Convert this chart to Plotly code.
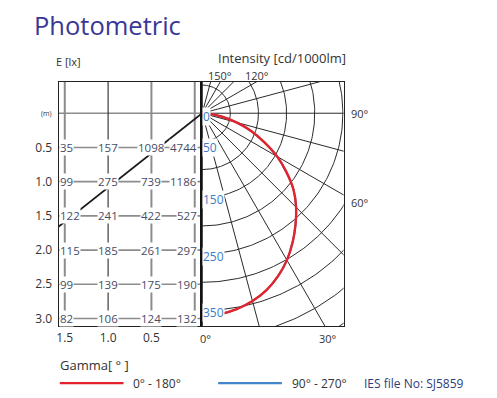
import numpy as np
import plotly.graph_objects as go

# ---------------- data ----------------
GAMMA_DEG = [0, 5, 10, 15, 20, 25, 30, 35, 40, 45, 50, 55, 60, 65, 70, 75, 80, 85, 90]
INTENSITY_C0_180 = [360, 358, 353, 345, 334, 319, 301, 280, 258, 236, 212, 183, 154, 122, 93, 63, 36, 14, 0]
INTENSITY_C90_270 = [360, 358, 353, 345, 334, 319, 301, 280, 258, 236, 212, 183, 154, 122, 93, 63, 36, 14, 0]

RING_VALUES = [50, 100, 150, 200, 250, 300, 350, 400, 450, 500]
RING_LABELS = [0, 50, 150, 250, 350]
SPOKE_ANGLES = [0, 15, 30, 45, 60, 75, 90, 105, 120, 135, 150, 165, 180]
ANGLE_LABELS = [0, 30, 60, 90, 120, 150]

DISTANCES = [0.5, 1.0, 1.5, 2.0, 2.5, 3.0]
DISTANCE_LABELS = ["0.5", "1.0", "1.5", "2.0", "2.5", "3.0"]
OFFSETS = [1.5, 1.0, 0.5, 0.0]
OFFSET_LABELS = ["1.5", "1.0", "0.5"]
E_LUX = [
    [35, 157, 1098, 4744],
    [99, 275, 739, 1186],
    [122, 241, 422, 527],
    [115, 185, 261, 297],
    [99, 139, 175, 190],
    [82, 106, 124, 132],
]
CONE_HALF_ANGLE = 45
IES_FILE = "SJ5859"

# ---------------- layout geometry (page px) ----------------
PAGE_OFF = 8                 # default body margin of the html page
W, H = 497 - PAGE_OFF, 398 - PAGE_OFF
BOX_L, BOX_M, BOX_R, BOX_T, BOX_B = 57, 200, 343, 82, 327
CX, CY = 201, 113.5          # luminaire position in px
K = 0.565                    # px per cd/klm
TX0, TKX = 193.5, 87.0       # table: px of 0 m, px per m (horizontal)
TKY = 68.6                   # table: px per m (vertical)


def fx(p):
    return (p - PAGE_OFF) / W


def fy(p):
    return 1 - (p - PAGE_OFF) / H


tab_xr = [(TX0 - BOX_L) / TKX, (TX0 - BOX_M) / TKX]
tab_yr = [(BOX_B - CY) / TKY, (BOX_T - CY) / TKY]
pol_xr = [(BOX_M - CX) / K, (BOX_R - CX) / K]
pol_yr = [-(BOX_B - CY) / K, (CY - BOX_T) / K]

FONT = "Open Sans, Noto Sans, Arial, sans-serif"
GRID = "#2b2b2b"
TGRAY = "#8c8c8c"
NUMC = "#464c66"
BLUEL = "#3b7cc4"
RED = "#e3232c"
BLUE = "#4287c8"

fig = go.Figure()

# ---------------- table (left) ----------------
for d in [0.0] + DISTANCES:
    fig.add_trace(go.Scatter(x=tab_xr, y=[d, d], mode="lines",
                             line=dict(color=TGRAY, width=1.6),
                             xaxis="x", yaxis="y", hoverinfo="skip", showlegend=False))
for o in OFFSETS:
    col = GRID if o == 1.0 else TGRAY
    wid = 1.1 if o == 1.0 else 2.0
    fig.add_trace(go.Scatter(x=[o, o], y=tab_yr, mode="lines",
                             line=dict(color=col, width=wid),
                             xaxis="x", yaxis="y", hoverinfo="skip", showlegend=False))
lum_x = (TX0 - CX) / TKX
ys = np.array([0.0, 4.0])
fig.add_trace(go.Scatter(x=lum_x + ys * np.tan(np.radians(CONE_HALF_ANGLE)), y=ys,
                         mode="lines", line=dict(color="#1a1a1a", width=1.8),
                         xaxis="x", yaxis="y", hoverinfo="skip", showlegend=False))

# ---------------- photometric diagram (right) ----------------
tt = np.radians(np.linspace(0, 180, 181))
for R in RING_VALUES:
    fig.add_trace(go.Scatter(x=R * np.sin(tt), y=-R * np.cos(tt), mode="lines",
                             line=dict(color=GRID, width=1),
                             xaxis="x2", yaxis="y2", hoverinfo="skip", showlegend=False))
RMAX = 600
for a in SPOKE_ANGLES:
    ar = np.radians(a)
    fig.add_trace(go.Scatter(x=[0, RMAX * np.sin(ar)], y=[0, -RMAX * np.cos(ar)], mode="lines",
                             line=dict(color=GRID, width=1),
                             xaxis="x2", yaxis="y2", hoverinfo="skip", showlegend=False))

g = np.radians(GAMMA_DEG)
for vals, colr, wid, name in [(INTENSITY_C90_270, BLUE, 2.0, "90° - 270°"),
                              (INTENSITY_C0_180, RED, 2.4, "0° - 180°")]:
    v = np.array(vals, dtype=float)
    fig.add_trace(go.Scatter(x=v * np.sin(g), y=-v * np.cos(g), mode="lines",
                             line=dict(color=colr, width=wid, shape="spline"),
                             name=name, xaxis="x2", yaxis="y2", showlegend=False))

ann = []
for r in RING_LABELS:
    ysh = -3 if r == 0 else (-6 if r == 50 else -2)
    ann.append(dict(x=pol_xr[0], y=-r, xref="x2", yref="y2", text=str(r),
                    xanchor="left", yanchor="middle", xshift=1, yshift=ysh,
                    showarrow=False, bgcolor="white", borderpad=0,
                    font=dict(family=FONT, size=12, color=BLUEL)))
for a in ANGLE_LABELS:
    ar = np.radians(a)
    dx, dy = np.sin(ar), -np.cos(ar)
    cands = []
    if dy < -1e-9:
        cands.append((pol_yr[0] / dy, "b"))
    if dy > 1e-9:
        cands.append((pol_yr[1] / dy, "t"))
    if dx > 1e-9:
        cands.append((pol_xr[1] / dx, "r"))
    t, side = min(cands)
    px_, py_ = t * dx, t * dy
    if side == "b":
        kw = dict(xanchor="center", yanchor="top", yshift=-4, xshift=3)
    elif side == "t":
        kw = dict(xanchor="center", yanchor="bottom", yshift=-2)
    else:
        kw = dict(xanchor="left", yanchor="middle", xshift=6, yshift=-7 if a != 90 else 0)
    ann.append(dict(x=px_, y=py_, xref="x2", yref="y2", text=f"{a}°", showarrow=False,
                    borderpad=0, font=dict(family=FONT, size=11, color="#333"), **kw))

for i, d in enumerate(DISTANCES):
    for j, o in enumerate(OFFSETS):
        if j == 0:
            kw = dict(x=tab_xr[0], xanchor="left", xshift=0)
        elif j == len(OFFSETS) - 1:
            kw = dict(x=o, xanchor="right", xshift=3)
        else:
            kw = dict(x=o, xanchor="center")
        ann.append(dict(y=d, xref="x", yref="y", text=str(E_LUX[i][j]), showarrow=False,
                        yanchor="middle", bgcolor="white", borderpad=0,
                        font=dict(family=FONT, size=11.5, color=NUMC), **kw))

ann.append(dict(x=fx(BOX_L - 5), y=0, xref="paper", yref="y", text="(m)",
                xanchor="right", yanchor="middle", showarrow=False,
                font=dict(family=FONT, size=7, color="#333")))
ann.append(dict(x=fx(52), y=fy(62), xref="paper", yref="paper", text="E [lx]",
                xanchor="left", yanchor="middle", showarrow=False,
                font=dict(family=FONT, size=11, color="#333")))
ann.append(dict(x=fx(281), y=fy(58.5), xref="paper", yref="paper", text="Intensity [cd/1000lm]",
                xanchor="center", yanchor="middle", showarrow=False, borderpad=0,
                font=dict(family=FONT, size=13, color="#333")))
ann.append(dict(x=fx(31), y=fy(25), xref="paper", yref="paper", text="Photometric",
                xanchor="left", yanchor="middle", showarrow=False, borderpad=0,
                font=dict(family=FONT, size=25.5, color="#3a3896")))
ann.append(dict(x=fx(56), y=fy(366), xref="paper", yref="paper", text="Gamma[ ° ]",
                xanchor="left", yanchor="middle", showarrow=False,
                font=dict(family=FONT, size=13, color="#333")))
ann.append(dict(x=fx(129), y=fy(384), xref="paper", yref="paper", text="0° - 180°",
                xanchor="left", yanchor="middle", showarrow=False,
                font=dict(family=FONT, size=12, color="#333")))
ann.append(dict(x=fx(289), y=fy(384), xref="paper", yref="paper", text="90° - 270°",
                xanchor="left", yanchor="middle", showarrow=False,
                font=dict(family=FONT, size=12, color="#333")))
ann.append(dict(x=fx(361), y=fy(384), xref="paper", yref="paper", text=f"IES file No: {IES_FILE}",
                xanchor="left", yanchor="middle", showarrow=False,
                font=dict(family=FONT, size=12, color="#2c3c7c")))

shapes = [
    dict(type="line", xref="paper", yref="paper", x0=fx(58), x1=fx(122), y0=fy(384), y1=fy(384),
         line=dict(color=RED, width=2.2)),
    dict(type="line", xref="paper", yref="paper", x0=fx(217), x1=fx(281), y0=fy(384), y1=fy(384),
         line=dict(color=BLUE, width=2.2)),
    dict(type="line", xref="paper", yref="paper", x0=fx(BOX_M), x1=fx(BOX_M),
         y0=fy(BOX_B), y1=fy(BOX_T), line=dict(color="#111", width=2.2)),
]

axline = dict(showline=True, mirror=True, linecolor="#222", linewidth=1.4,
              showgrid=False, zeroline=False, ticks="", fixedrange=True)

fig.update_layout(
    width=W, height=H, margin=dict(l=0, r=0, t=0, b=0),
    paper_bgcolor="white", plot_bgcolor="white",
    xaxis=dict(domain=[fx(BOX_L), fx(BOX_M)], range=tab_xr, tickvals=OFFSETS[:3],
               ticktext=OFFSET_LABELS, tickfont=dict(family=FONT, size=12, color="#333"),
               **axline),
    yaxis=dict(domain=[fy(BOX_B), fy(BOX_T)], range=tab_yr, tickvals=DISTANCES,
               ticktext=DISTANCE_LABELS, tickfont=dict(family=FONT, size=12, color="#333"),
               ticklabelstandoff=3, **axline),
    xaxis2=dict(domain=[fx(BOX_M), fx(BOX_R)], range=pol_xr, showticklabels=False,
                anchor="y2", **axline),
    yaxis2=dict(domain=[fy(BOX_B), fy(BOX_T)], range=pol_yr, showticklabels=False,
                anchor="x2", **axline),
    annotations=ann, shapes=shapes, showlegend=False,
)

fig.write_html("out.html")
